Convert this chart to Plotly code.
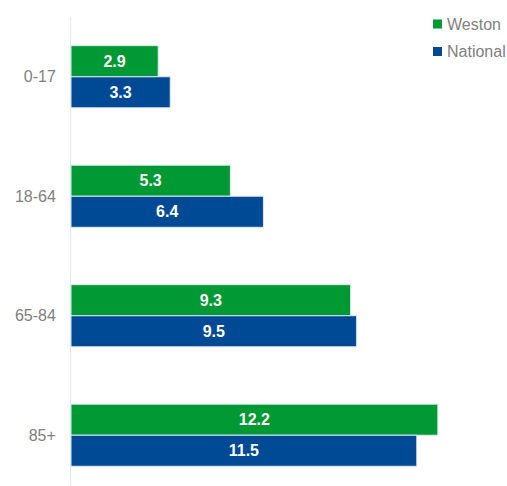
import plotly.graph_objects as go

categories = ["0-17", "18-64", "65-84", "85+"]
weston = [2.9, 5.3, 9.3, 12.2]
national = [3.3, 6.4, 9.5, 11.5]
series_names = ["Weston", "National"]

GREEN = "#009933"
BLUE = "#004994"
GRAY = "#7f7f7f"
FONT = "Liberation Sans"

W, H = 507, 486
ML, MR, MT, MB = 71, 0, 17, 0
PW, PH = W - ML - MR, H - MT - MB


def px_x(x):
    return (x - ML) / PW


def px_y(y):
    return 1 - (y - MT) / PH


fig = go.Figure()
for name, vals, col in [(series_names[0], weston, GREEN), (series_names[1], national, BLUE)]:
    fig.add_trace(go.Bar(
        y=categories, x=vals, name=name, orientation="h",
        marker=dict(color=col, line=dict(color="#dce9f3", width=1)),
        text=[f"{v:.1f}" for v in vals], textposition="inside",
        insidetextanchor="middle",
        textfont=dict(color="white", size=16, family=FONT, weight="bold"),
        showlegend=False, cliponaxis=False,
    ))

# manual legend (small squares + labels)
legend_items = [(series_names[0], GREEN, 24), (series_names[1], BLUE, 51.5)]
shapes, annotations = [], []
for name, col, cy in legend_items:
    shapes.append(dict(type="rect", xref="paper", yref="paper",
                       x0=px_x(433), x1=px_x(442), y0=px_y(cy + 4.5), y1=px_y(cy - 4.5),
                       fillcolor=col, line=dict(width=0)))
    annotations.append(dict(xref="paper", yref="paper", x=px_x(445), y=px_y(cy),
                            xanchor="left", yanchor="middle", text=name, showarrow=False,
                            font=dict(family=FONT, size=16, color=GRAY)))

fig.update_layout(
    width=W, height=H,
    margin=dict(l=ML, r=MR, t=MT, b=MB, autoexpand=False),
    paper_bgcolor="white", plot_bgcolor="white",
    barmode="group", bargap=0.48, bargroupgap=0,
    font=dict(family=FONT, size=16, color=GRAY),
    showlegend=False,
    shapes=shapes, annotations=annotations,
    xaxis=dict(range=[0, 14.5], visible=False, showgrid=False, zeroline=False),
    yaxis=dict(type="category", range=[3.425, -0.5], showline=True, linecolor="#dce9f5",
               linewidth=1, ticks="", showgrid=False, ticklabelstandoff=11,
               tickfont=dict(size=16, color=GRAY, family=FONT)),
)

fig.write_html("out.html")
